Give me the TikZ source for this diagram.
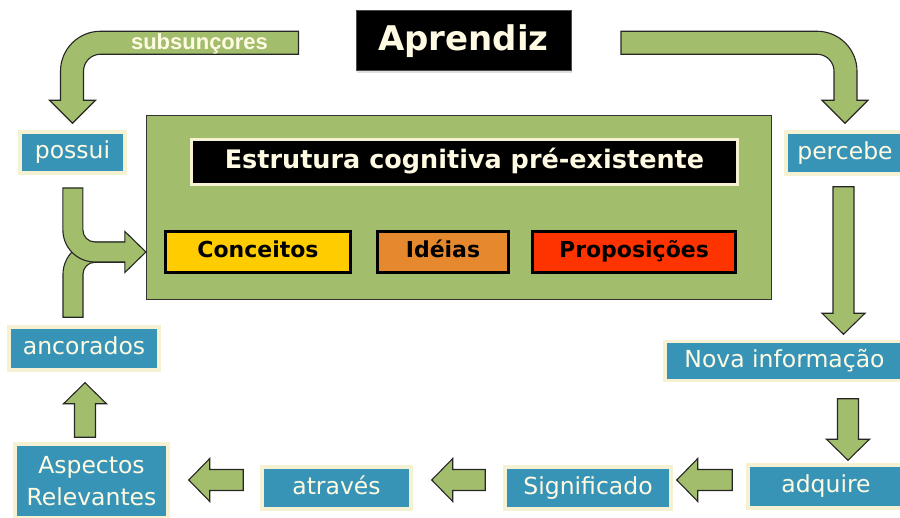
\documentclass[tikz,border=0pt]{standalone}
\usepackage{fontspec}
\setmainfont{DejaVu Sans}
\newfontfamily\arialfont{Liberation Sans}
\usepackage{tikz}
\usetikzlibrary{positioning, calc, shadows}

% fat green arrow from one point to another
\newcommand{\fatarrow}[2]{%
  \path (#1) coordinate (fa-s) (#2) coordinate (fa-e);
  \path ($(fa-e)!21pt!(fa-s)$) coordinate (fa-b);
  \draw[blockarrow]
    ($(fa-s)!10.5pt!90:(fa-e)$) -- ($(fa-b)!10.5pt!-90:(fa-s)$)
    -- ($(fa-b)!21.5pt!-90:(fa-s)$) -- (fa-e)
    -- ($(fa-b)!21.5pt!90:(fa-s)$) -- ($(fa-b)!10.5pt!90:(fa-s)$)
    -- ($(fa-s)!10.5pt!-90:(fa-e)$) -- cycle;}

\begin{document}
\begin{tikzpicture}[
    x=1pt, y=1pt,
    blockarrow/.style={draw=black!85, line width=1.1pt, fill=arrowgreen, line join=miter},
    boxshadow/.style={drop shadow={shadow xshift=1.2pt, shadow yshift=-2pt, opacity=0.25}},
    bluebox/.style={rectangle, draw=creamline, line width=3.5pt, fill=boxblue,
        text=creamtext, inner sep=0pt, align=center, boxshadow,
        font=\fontsize{23.5}{32}\selectfont},
    oneline/.style={text height=17pt, text depth=4.5pt},
    conceptbox/.style={rectangle, draw=black, line width=3pt, inner sep=0pt,
        minimum height=41pt, text height=16pt, text depth=5pt,
        font=\fontsize{22}{26}\selectfont\bfseries},
]

% ── Colors ──
\definecolor{arrowgreen}{HTML}{A2BE6C}
\definecolor{boxblue}{HTML}{3894B7}
\definecolor{creamline}{HTML}{F6F1D2}
\definecolor{creamtext}{HTML}{FFFBE3}
\definecolor{concfill}{HTML}{FFCC00}
\definecolor{ideafill}{HTML}{E6892E}
\definecolor{propfill}{HTML}{FF3300}

\useasboundingbox (0,0) rectangle (900,518);

% ══════════════════════════════════════════════
% Top: learner
% ══════════════════════════════════════════════
\node[rectangle, fill=black, draw=black!70, line width=1pt, boxshadow,
    minimum width=215pt, minimum height=60pt, inner sep=0pt,
    text=creamtext, font=\fontsize{34}{38}\selectfont\bfseries] (aprendiz) at (463.5,477) {Aprendiz};

% ══════════════════════════════════════════════
% Centre: cognitive structure
% ══════════════════════════════════════════════
\node[rectangle, draw=black!80, line width=1.2pt, fill=arrowgreen,
    minimum width=625pt, minimum height=184pt] (struct) at (459,310.5) {};

\node[rectangle, fill=black, draw=creamline, line width=3pt, boxshadow,
    minimum width=546pt, minimum height=45pt, inner sep=0pt,
    text height=18pt, text depth=5pt,
    text=creamtext, font=\fontsize{25.5}{29}\selectfont\bfseries] (estrutura) at (464.5,356)
    {Estrutura cognitiva pré-existente};

\node[conceptbox, fill=ideafill, minimum width=131pt] (ideias) at (443,266) {Idéias};
\node[conceptbox, fill=concfill, minimum width=185pt, left=24pt of ideias] (conceitos) {Conceitos};
\node[conceptbox, fill=propfill, minimum width=203pt, right=21pt of ideias] (proposicoes) {Proposições};

% ══════════════════════════════════════════════
% Cycle of blue boxes
% ══════════════════════════════════════════════
\node[bluebox, oneline, minimum width=105pt, minimum height=41pt] (possui) at (72.5,365.5) {possui};
\node[bluebox, oneline, minimum width=118pt, minimum height=42pt] (percebe) at (845,365) {percebe};
\node[bluebox, oneline, minimum width=239pt, minimum height=39pt] (nova) at (784.5,157) {Nova informação};
\node[bluebox, oneline, minimum width=156pt, minimum height=43pt] (adquire) at (826,31.5) {adquire};
\node[bluebox, oneline, minimum width=166pt, minimum height=42pt] (signif) at (588,30) {Significado};
\node[bluebox, oneline, minimum width=149pt, minimum height=42pt] (atraves) at (336.5,30) {através};
\node[bluebox, minimum width=153pt, minimum height=74pt] (aspectos) at (91.5,37) {Aspectos\\Relevantes};
\node[bluebox, oneline, minimum width=150pt, minimum height=43pt] (ancorados) at (84,169.5) {ancorados};

% ══════════════════════════════════════════════
% Bent arrows from the top bar
% ══════════════════════════════════════════════
\draw[blockarrow] ([yshift=7pt]possui.north) -- ++(23,23) -- ++(-12,0) -- ++(0,29)
    arc[start angle=180, end angle=90, radius=17] -- ++(198,0) -- ++(0,23) -- ++(-198,0)
    arc[start angle=90, end angle=180, radius=40] -- ++(0,-29) -- ++(-11,0) -- cycle;
\node[font=\arialfont\bfseries\fontsize{22}{24}\selectfont, text=creamtext, anchor=base]
    (subsun) at (199.5,468) {subsunçores};

\draw[blockarrow] ([yshift=7pt]percebe.north) -- ++(-23,23) -- ++(12,0) -- ++(0,29)
    arc[start angle=0, end angle=90, radius=17] -- ++(-196,0) -- ++(0,23) -- ++(196,0)
    arc[start angle=90, end angle=0, radius=40] -- ++(0,-29) -- ++(11,0) -- cycle;

% ══════════════════════════════════════════════
% Merging arrow into the structure (left side)
% ══════════════════════════════════════════════
\coordinate (jtip) at (struct.west |- conceitos.west);
\draw[blockarrow] ($(ancorados.north)+(-21,8)$) -- ++(0,43)
    arc[start angle=180, end angle=90, radius=32] -- ++(30,0) -- ++(0,-20) -- ++(-30,0)
    arc[start angle=90, end angle=180, radius=12] -- ++(0,-43) -- cycle;
\draw[blockarrow] (jtip) -- ++(-21,20.5) -- ++(0,-10.5) -- ++(-30,0)
    arc[start angle=270, end angle=180, radius=12] -- ++(0,42) -- ++(-20,0) -- ++(0,-42)
    arc[start angle=180, end angle=270, radius=32] -- ++(30,0) -- ++(0,-10.5) -- cycle;

% ══════════════════════════════════════════════
% Straight arrows round the cycle
% ══════════════════════════════════════════════
\fatarrow{$(percebe.south)+(-1.5,-11)$}{$(nova.north -| percebe.south)+(-1.5,5.5)$}
\fatarrow{$(nova.south -| adquire.north)+(22,-16.5)$}{$(adquire.north)+(22,3)$}
\fatarrow{$(adquire.west)+(-14,6.5)$}{$(signif.east |- adquire.west)+(4,6.5)$}
\fatarrow{$(signif.west)+(-18,8)$}{$(atraves.east)+(19,8)$}
\fatarrow{$(atraves.west)+(-17,8)$}{$(aspectos.east |- atraves.west)+(19,8)$}
\fatarrow{$(aspectos.north)+(-6.5,5)$}{$(ancorados.south -| aspectos.north)+(-6.5,-11)$}

\end{tikzpicture}
\end{document}
